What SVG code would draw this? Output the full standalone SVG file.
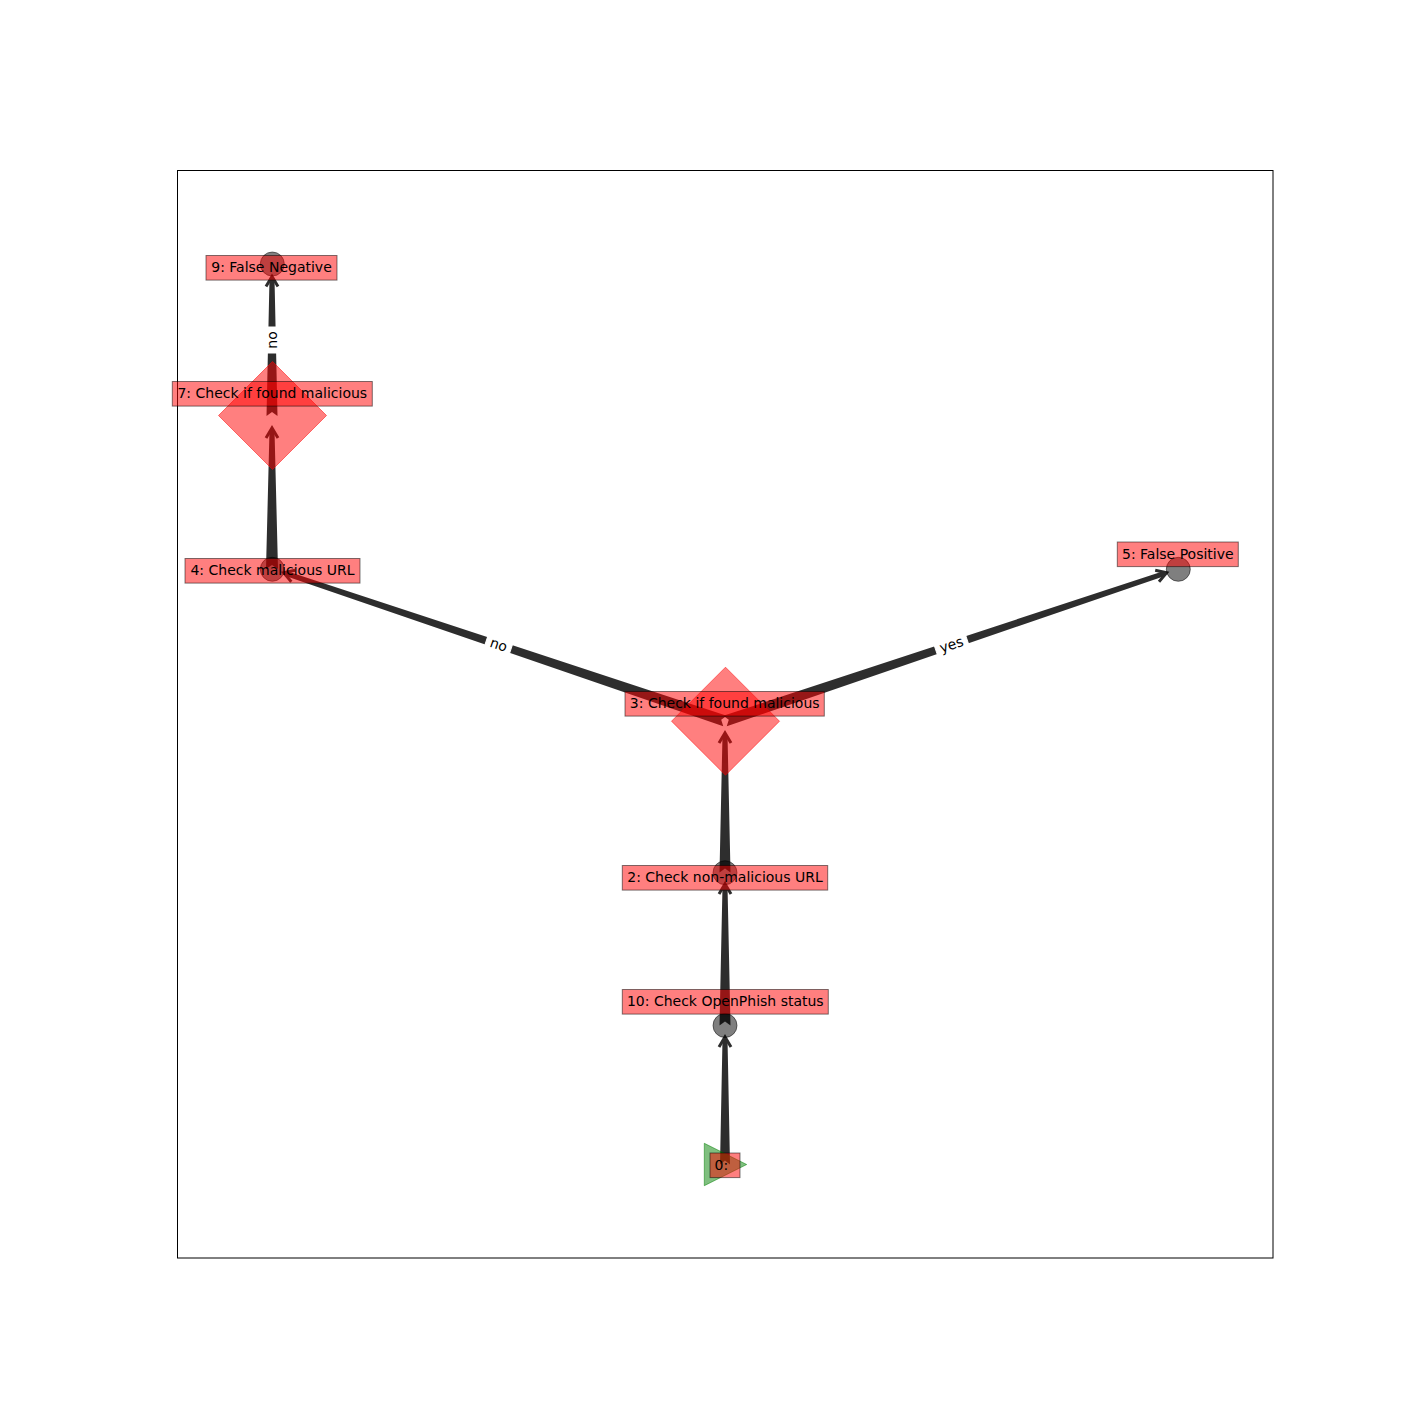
<svg xmlns="http://www.w3.org/2000/svg" width="1414" height="1414" viewBox="0 0 1414 1414">
<style>
  .edge { opacity: 0.82; }
  .body { fill: #000; }
  .head { fill: none; stroke: #000; stroke-width: 3; stroke-linejoin: miter; stroke-linecap: butt; }
  .circ { fill: #000; fill-opacity: 0.5; stroke: #000; stroke-opacity: 0.5; stroke-width: 1; }
  .dia { fill: #ff0000; fill-opacity: 0.5; stroke: #ff0000; stroke-opacity: 0.5; stroke-width: 1; }
  .tri { fill: #008000; fill-opacity: 0.5; stroke: #008000; stroke-opacity: 0.5; stroke-width: 1; }
  .lbox { fill: #ff0000; fill-opacity: 0.5; stroke: #000; stroke-opacity: 0.5; stroke-width: 1; }
  .ltxt { font-family: "DejaVu Sans", "Liberation Sans", sans-serif; font-size: 14px; fill: #000; text-anchor: middle; }
  .ebox { fill: #fff; stroke: #fff; }
</style>
<rect x="0" y="0" width="1414" height="1414" fill="#fff"/>
<rect x="177.5" y="170.5" width="1095.5" height="1087.5" fill="none" stroke="#000" stroke-width="1"/>

<g id="edges">
  <g id="e0-10" class="edge">
    <polygon class="body" points="730,1164.5 727.5,1039 722.5,1039 720,1164.5 725,1160.5"/>
    <path class="head" d="M731,1047 L725,1037 L719,1047"/>
  </g>
  <g id="e10-2" class="edge">
    <polygon class="body" points="730.5,1025.5 727.5,886 722.5,886 719.5,1025.5 725,1021.5"/>
    <path class="head" d="M731,894 L725,884 L719,894"/>
  </g>
  <g id="e2-3" class="edge">
    <polygon class="body" points="730.5,872.5 727.5,735 722.5,735 719.5,872.5 725,868.5"/>
    <path class="head" d="M731,743 L725,733 L719,743"/>
  </g>
  <g id="e4-7" class="edge">
    <polygon class="body" points="278,569 274.5,430 269.5,430 266,569 272,565"/>
    <path class="head" d="M278,438 L272,428 L266,438"/>
  </g>
  <g id="e7-9" class="edge">
    <polygon class="body" points="277.5,416 274.5,278.5 269.5,278.5 266.5,416 272,412"/>
    <path class="head" d="M278,286.5 L272,276.5 L266,286.5"/>
  </g>
  <g id="e3-5" class="edge">
    <polygon class="body" points="726.75,726.21 1165.5,575.8 1163.9,571.0 723.25,715.79 728.79,719.73"/>
    <path class="head" d="M1159.0,581.7 L1166.6,572.8 L1155.2,570.3"/>
  </g>
  <g id="e3-4" class="edge">
    <polygon class="body" points="726.75,715.79 286.4,571.0 284.8,575.8 723.25,726.21 721.21,719.73"/>
    <path class="head" d="M295.1,570.3 L283.7,572.8 L291.3,581.7"/>
  </g>
  <g id="elabel-7-9" transform="translate(272,340) rotate(-90)">
    <rect class="ebox" x="-13" y="-12.3" width="26" height="24.6" rx="4"/>
    <text class="ltxt" x="0" y="4.5">no</text>
  </g>
  <g id="elabel-3-4" transform="translate(498.6,645) rotate(18.55)">
    <rect class="ebox" x="-13" y="-12.3" width="26" height="24.6" rx="4"/>
    <text class="ltxt" x="0" y="4.5">no</text>
  </g>
  <g id="elabel-3-5" transform="translate(951.5,645) rotate(-18.55)">
    <rect class="ebox" x="-16.5" y="-12.3" width="33" height="24.6" rx="4"/>
    <text class="ltxt" x="0" y="4.5">yes</text>
  </g>
</g>

<g id="node0">
  <polygon class="tri" points="704.3,1143.3 746.7,1164.5 704.3,1185.7"/>
  <rect class="lbox" x="710" y="1153" width="30" height="24.6"/>
  <text class="ltxt" x="714.5" y="1169.5" style="text-anchor:start">0:</text>
</g>
<g id="node10">
  <circle class="circ" cx="725" cy="1025.5" r="12"/>
  <rect class="lbox" x="622.3" y="989.5" width="206" height="24.6"/>
  <text class="ltxt" x="725.3" y="1006">10: Check OpenPhish status</text>
</g>
<g id="node2">
  <circle class="circ" cx="725" cy="872.7" r="12"/>
  <rect class="lbox" x="622.3" y="865.5" width="205.4" height="24.6"/>
  <text class="ltxt" x="725" y="882">2: Check non-malicious URL</text>
</g>
<g id="node3">
  <polygon class="dia" points="725.5,667.2 779.5,721.2 725.5,775.2 671.5,721.2"/>
  <rect class="lbox" x="625" y="691.5" width="199.3" height="24.6"/>
  <text class="ltxt" x="724.7" y="708">3: Check if found malicious</text>
</g>
<g id="node4">
  <circle class="circ" cx="272.3" cy="569.3" r="12"/>
  <rect class="lbox" x="185" y="558.5" width="175" height="24.6"/>
  <text class="ltxt" x="272.5" y="575">4: Check malicious URL</text>
</g>
<g id="node5">
  <circle class="circ" cx="1178.3" cy="569.3" r="12"/>
  <rect class="lbox" x="1117.3" y="542" width="121" height="24.6"/>
  <text class="ltxt" x="1177.8" y="558.5">5: False Positive</text>
</g>
<g id="node7">
  <polygon class="dia" points="272.5,361.5 326.5,415.5 272.5,469.5 218.5,415.5"/>
  <rect class="lbox" x="172.3" y="381.5" width="200" height="24.6"/>
  <text class="ltxt" x="272.3" y="398">7: Check if found malicious</text>
</g>
<g id="node9">
  <circle class="circ" cx="272.3" cy="264" r="12"/>
  <rect class="lbox" x="206" y="255.5" width="131" height="24.6"/>
  <text class="ltxt" x="271.5" y="272">9: False Negative</text>
</g>
</svg>
